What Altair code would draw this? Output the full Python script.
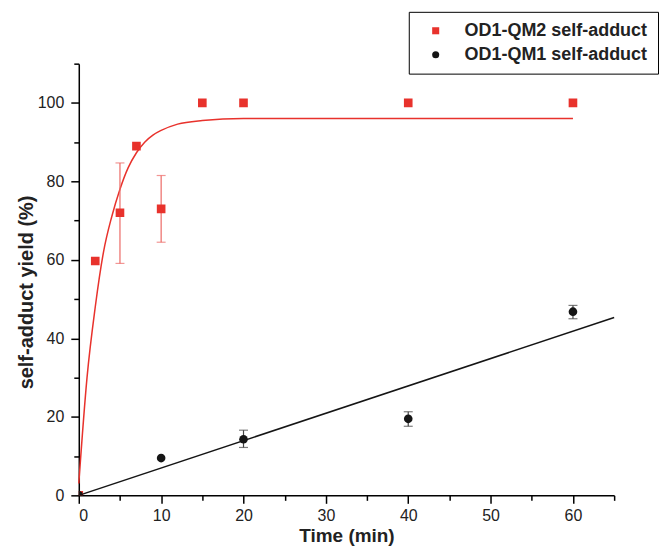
import altair as alt
import pandas as pd

S2 = "OD1-QM2 self-adduct"
S1 = "OD1-QM1 self-adduct"
RED = "#e8322c"
BLACK = "#151515"
RED_ERR = "#ec6a66"
BLACK_ERR = "#444444"

# measured points
qm2_time = [0, 2, 5, 7, 10, 15, 20, 40, 60]
qm2_yield = [0, 59.7, 72, 89, 73, 100, 100, 100, 100]
qm1_time = [0, 10, 20, 40, 60]
qm1_yield = [0, 9.5, 14.3, 19.5, 46.8]

# error bars
qm2_err_time = [5, 10]
qm2_err_low = [59.1, 64.5]
qm2_err_high = [84.7, 81.5]
qm1_err_time = [20, 40, 60]
qm1_err_low = [12.2, 17.6, 45.0]
qm1_err_high = [16.6, 21.3, 48.4]

# fitted curves
qm2_fit_time = [0, 1, 2, 3, 4, 5, 6, 7, 8, 9, 10, 12, 15, 20, 30, 40, 50, 60]
qm2_fit_yield = [3, 30, 48, 62, 71, 78, 83.5, 87.3, 90, 91.8, 93, 94.6, 95.5, 96, 96, 96, 96, 96]
qm1_fit_time = [0, 65]
qm1_fit_yield = [0, 45.3]

x_major = [0, 10, 20, 30, 40, 50, 60]
x_minor = [5, 15, 25, 35, 45, 55, 65]
y_major = [0, 20, 40, 60, 80, 100]
y_minor = [10, 30, 50, 70, 90, 110]

pts = pd.DataFrame(
    {"series": [S2] * len(qm2_time) + [S1] * len(qm1_time),
     "t": qm2_time + qm1_time,
     "y": qm2_yield + qm1_yield}
)
err2 = pd.DataFrame({"t": qm2_err_time, "low": qm2_err_low, "high": qm2_err_high})
err1 = pd.DataFrame({"t": qm1_err_time, "low": qm1_err_low, "high": qm1_err_high})
fit2 = pd.DataFrame({"t": qm2_fit_time, "y": qm2_fit_yield})
fit1 = pd.DataFrame({"t": qm1_fit_time, "y": qm1_fit_yield})

FONT = "Liberation Sans"
xs = alt.Scale(domain=[0, 65], nice=False, zero=False)
ys = alt.Scale(domain=[0, 110], nice=False, zero=False)

major_x_axis = alt.Axis(values=x_major, title="Time (min)", format="d", tickSize=8,
                        tickWidth=1.5, domainWidth=1.5, domainColor="black", tickColor="black",
                        labelFont=FONT, labelFontSize=16, labelColor="#222", labelPadding=4,
                        titleFont=FONT, titleFontSize=19, titleFontWeight="bold",
                        titleColor="#222", titlePadding=3, grid=False, orient="bottom")
major_y_axis = alt.Axis(values=y_major, title="self-adduct yield (%)", format="d", tickSize=8,
                        tickWidth=1.5, domainWidth=1.5, domainColor="black", tickColor="black",
                        labelFont=FONT, labelFontSize=16, labelColor="#222", labelPadding=7,
                        titleFont=FONT, titleFontSize=20, titleFontWeight="bold",
                        titleColor="#222", titlePadding=1, titleY=229, grid=False, orient="left")
minor_x_axis = alt.Axis(values=x_minor, title=None, labels=False, domain=False, tickSize=5,
                        tickWidth=1.5, tickColor="black", grid=False, orient="bottom")
minor_y_axis = alt.Axis(values=y_minor, title=None, labels=False, domain=False, tickSize=5,
                        tickWidth=1.5, tickColor="black", grid=False, orient="left")

line1 = alt.Chart(fit1).mark_line(color=BLACK, strokeWidth=1.5).encode(
    x=alt.X("t:Q", scale=xs, axis=minor_x_axis),
    y=alt.Y("y:Q", scale=ys, axis=minor_y_axis),
)
line2 = alt.Chart(fit2).mark_line(color=RED, strokeWidth=1.5, interpolate="monotone").encode(
    x=alt.X("t:Q", scale=xs, axis=major_x_axis),
    y=alt.Y("y:Q", scale=ys, axis=major_y_axis),
)


def errbars(df, color):
    rule = alt.Chart(df).mark_rule(strokeWidth=1.2, color=color).encode(
        x=alt.X("t:Q", scale=xs, axis=None),
        y=alt.Y("low:Q", scale=ys, axis=None),
        y2="high:Q",
    )
    cap = alt.Chart(df).transform_fold(["low", "high"], as_=["end", "v"]).mark_tick(
        orient="horizontal", size=9, thickness=1.2, color=color).encode(
        x=alt.X("t:Q", scale=xs, axis=None),
        y=alt.Y("v:Q", scale=ys, axis=None),
    )
    return rule + cap


legend = alt.Legend(
    title=None, orient="none", legendX=331, legendY=-52, padding=10, strokeColor="black",
    fillColor="white", symbolOffset=8, symbolSize=50, labelOffset=20, rowPadding=6,
    labelFont=FONT, labelFontSize=18, labelFontWeight="bold", labelColor="#222",
    labelLimit=400,
)

points = alt.Chart(pts).mark_point(filled=True, opacity=1, size=75, clip=True).encode(
    x=alt.X("t:Q", scale=xs, axis=None),
    y=alt.Y("y:Q", scale=ys, axis=None),
    color=alt.Color("series:N", scale=alt.Scale(domain=[S2, S1], range=[RED, BLACK]),
                    legend=legend),
    shape=alt.Shape("series:N", scale=alt.Scale(domain=[S2, S1], range=["square", "circle"]),
                    legend=legend),
)

chart = alt.layer(
    line1, line2, errbars(err2, RED_ERR), errbars(err1, BLACK_ERR), points
).resolve_axis(
    x="independent", y="independent"
).properties(
    width=537, height=433,
    autosize=alt.AutoSizeParams(type="none"),
    padding={"left": 71, "top": 55, "right": 48, "bottom": 56},
).configure_view(stroke=None)

chart.save("out.html", embed_options={"renderer": "svg", "actions": False})
